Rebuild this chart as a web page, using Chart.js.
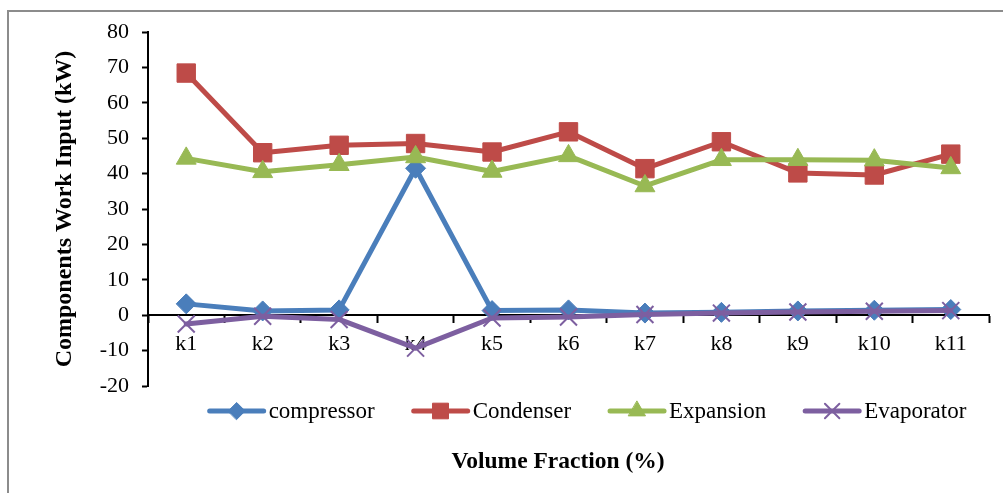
<!DOCTYPE html>
<html><head><meta charset="utf-8">
<script src="https://cdn.jsdelivr.net/npm/chart.js@4/dist/chart.umd.min.js"></script>
<style>html,body{margin:0;padding:0;background:#fff;}#wrap{width:1003px;height:493px;}</style>
</head><body><div id="wrap"><canvas id="c" width="1003" height="493"></canvas></div>
<script>
const categories = ['k1','k2','k3','k4','k5','k6','k7','k8','k9','k10','k11'];
const compressor = [3.2, 1.2, 1.5, 41.5, 1.3, 1.5, 0.6, 0.8, 1.2, 1.4, 1.6];
const condenser  = [68.4, 45.9, 48.0, 48.5, 46.1, 51.8, 41.4, 49.0, 40.2, 39.6, 45.5];
const expansion  = [44.3, 40.5, 42.5, 44.7, 40.6, 45.0, 36.5, 43.9, 43.9, 43.8, 41.6];
const evaporator = [-2.5, -0.3, -1.2, -9.3, -0.8, -0.5, 0.2, 0.6, 0.9, 1.1, 1.3];
const seriesNames = ['compressor', 'Condenser', 'Expansion', 'Evaporator'];
const yTitle = 'Components Work Input (kW)';
const xTitle = 'Volume Fraction (%)';

const F = '"Liberation Serif", "Times New Roman", serif';

const frame = {
  id: 'frame',
  beforeDraw(chart) {
    const ctx = chart.ctx;
    ctx.save();
    ctx.fillStyle = '#fff';
    ctx.fillRect(0, 0, chart.width, chart.height);
    ctx.strokeStyle = '#8c8c8c';
    ctx.lineWidth = 2;
    ctx.beginPath();
    ctx.moveTo(8, chart.height);
    ctx.lineTo(8, 11);
    ctx.lineTo(chart.width, 11);
    ctx.stroke();
    ctx.restore();
  }
};

const customLegend = {
  id: 'customLegend',
  afterDraw(chart) {
    const ctx = chart.ctx;
    ctx.save();
    ctx.font = '23px ' + F;
    const lineLen = 54, gapText = 5, gapItem = 39;
    const ds = chart.data.datasets;
    const widths = ds.map(d => ctx.measureText(d.label).width);
    let total = 0;
    widths.forEach((w, i) => { total += lineLen + gapText + w + (i < widths.length - 1 ? gapItem : 0); });
    let x = 588 - total / 2;
    const y = 411;
    ds.forEach((d, i) => {
      ctx.strokeStyle = d.borderColor;
      ctx.lineWidth = 5;
      ctx.lineCap = 'round';
      ctx.beginPath();
      ctx.moveTo(x, y);
      ctx.lineTo(x + lineLen, y);
      ctx.stroke();
      ctx.fillStyle = d.pointBackgroundColor;
      ctx.strokeStyle = d.pointBorderColor;
      ctx.lineWidth = d.pointBorderWidth;
      Chart.helpers.drawPoint(ctx, {pointStyle: d.pointStyle, radius: d.pointRadius * 0.85, rotation: 0, borderWidth: d.pointBorderWidth}, x + lineLen / 2, y);
      ctx.fillStyle = '#000';
      ctx.textAlign = 'left';
      ctx.textBaseline = 'middle';
      ctx.fillText(d.label, x + lineLen + gapText, y + 1);
      x += lineLen + gapText + widths[i] + gapItem;
    });
    ctx.font = 'bold 23.5px ' + F;
    ctx.textAlign = 'center';
    ctx.textBaseline = 'middle';
    ctx.fillStyle = '#000';
    ctx.fillText(xTitle, 558, 462);
    ctx.restore();
  }
};

function mk(label, data, color, style, radius, pbw, order) {
  return {
    label, data, order,
    borderColor: color, backgroundColor: color,
    borderWidth: 5, borderJoinStyle: 'round', borderCapStyle: 'round',
    pointStyle: style, pointRadius: radius, pointHoverRadius: radius,
    pointBackgroundColor: color, pointBorderColor: color, pointBorderWidth: pbw,
    tension: 0
  };
}

new Chart(document.getElementById('c'), {
  type: 'line',
  data: {
    labels: categories,
    datasets: [
      mk(seriesNames[0], compressor, '#4A7EBB', 'rectRot', 10, 1, 4),
      mk(seriesNames[1], condenser, '#BE4B48', 'rect', 13, 1, 3),
      mk(seriesNames[2], expansion, '#98B954', 'triangle', 11.5, 1, 2),
      mk(seriesNames[3], evaporator, '#7D5FA0', 'crossRot', 12, 2, 1)
    ]
  },
  options: {
    responsive: false,
    animation: false,
    devicePixelRatio: 1,
    layout: {padding: {left: 50, top: 32, right: 10, bottom: 107}},
    plugins: {legend: {display: false}, tooltip: {enabled: false}, title: {display: false}},
    scales: {
      x: {
        type: 'category', offset: true, position: {y: 0},
        grid: {display: true, drawOnChartArea: false, drawTicks: true, tickLength: 7, tickWidth: 2, tickColor: '#000', offset: true},
        border: {display: true, color: '#000', width: 2},
        ticks: {color: '#000', font: {family: F, size: 22}, padding: 9, maxRotation: 0, autoSkip: false}
      },
      y: {
        min: -20, max: 80,
        ticks: {stepSize: 10, color: '#000', font: {family: F, size: 22}, padding: 13},
        grid: {display: true, drawOnChartArea: false, drawTicks: true, tickLength: 6, tickWidth: 2, tickColor: '#000'},
        border: {display: true, color: '#000', width: 2},
        title: {display: true, text: yTitle, color: '#000', font: {family: F, size: 24, weight: 'bold'}, padding: 0},
        afterFit(s) { s.width = 98; }
      }
    }
  },
  plugins: [frame, customLegend]
});
</script>
</body></html>
